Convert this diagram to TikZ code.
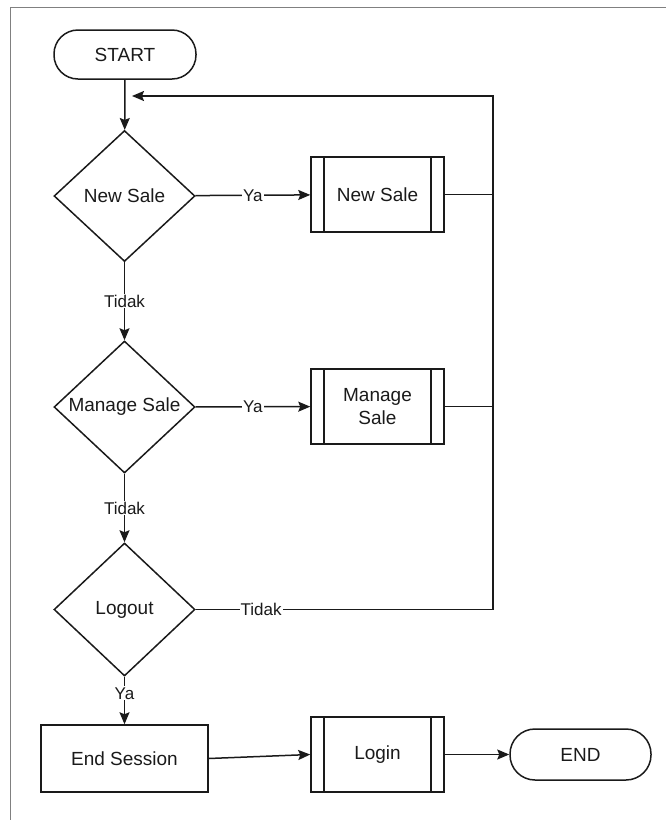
\documentclass[tikz,border=0pt]{standalone}
\usepackage{fontspec}
\setmainfont{Liberation Sans}
\usetikzlibrary{shapes.geometric,arrows.meta}
\definecolor{ln}{HTML}{1A1A1A}
\definecolor{fr}{HTML}{808080}
\tikzset{
  base/.style={draw=ln, line width=1.5pt, font=\fontsize{19}{23}\selectfont, text=ln, inner sep=0pt, align=center},
  term/.style={base, rounded corners=24pt},
  dec/.style={base, diamond},
  proc/.style={base, rectangle},
  pproc/.style={base, rectangle, path picture={
     \draw[ln, line width=1.5pt] ([xshift=13pt]path picture bounding box.north west) -- ([xshift=13pt]path picture bounding box.south west);
     \draw[ln, line width=1.5pt] ([xshift=-13pt]path picture bounding box.north east) -- ([xshift=-13pt]path picture bounding box.south east);}},
  conn/.style={draw=ln, line width=1.5pt},
  arr/.style={conn, -{Stealth[length=12pt,width=10pt,inset=2pt]}},
  lbl/.style={fill=white, inner sep=1pt, text=ln, font=\fontsize{17}{19}\selectfont}
}
\begin{document}
\begin{tikzpicture}[x=1pt,y=-1pt]
\useasboundingbox (0,0) rectangle (666,820);
% frame
\draw[fr, line width=0.9pt] (10,820) -- (10,7) -- (666,7);
% nodes
\node[term, minimum width=142pt, minimum height=49pt] (start) at (125,54.5) {START};
\node[dec, minimum width=141pt, minimum height=131pt] (d1) at (124.5,196) {New Sale};
\node[dec, minimum width=141pt, minimum height=132pt] (d2) at (124.5,407) {Manage Sale};
\node[dec, minimum width=141pt, minimum height=133pt] (d3) at (124.5,609.5) {Logout};
\node[pproc, minimum width=133pt, minimum height=75pt] (ns) at (377.5,194.5) {New Sale};
\node[pproc, minimum width=133pt, minimum height=75pt] (ms) at (377.5,406.5) {Manage\\Sale};
\node[proc, minimum width=167pt, minimum height=67pt] (es) at (124.5,758.5) {End Session};
\node[pproc, minimum width=133pt, minimum height=75pt] (login) at (377.5,754.5) {Login};
\node[term, minimum width=141pt, minimum height=51pt, rounded corners=25pt] (end) at (580.5,754.5) {END};
% helper coordinates
\coordinate (rt) at (493,96);
\coordinate (rb) at (493,609.5);
\coordinate (r1) at (493,194.5);
\coordinate (r2) at (493,406.5);
\coordinate (fb) at (132,96);
% connectors
\draw[arr] (start) -- (d1);
\draw[arr] (d1) -- node[lbl] {Ya} (ns);
\draw[arr] (d1) -- node[lbl] {Tidak} (d2);
\draw[arr] (d2) -- node[lbl] {Ya} (ms);
\draw[arr] (d2) -- node[lbl] {Tidak} (d3);
\draw[arr] (d3) -- node[lbl, pos=0.35] {Ya} (es);
\draw[conn] (ns.east) -- (r1);
\draw[conn] (ms.east) -- (r2);
\draw[conn] (d3.east) -- node[lbl, pos=0.22] {Tidak} (rb);
\draw[arr] (rb) -- (rt) -- (fb);
\draw[arr] (es.east) -- (login.west);
\draw[arr] (login) -- (end);
\end{tikzpicture}
\end{document}
